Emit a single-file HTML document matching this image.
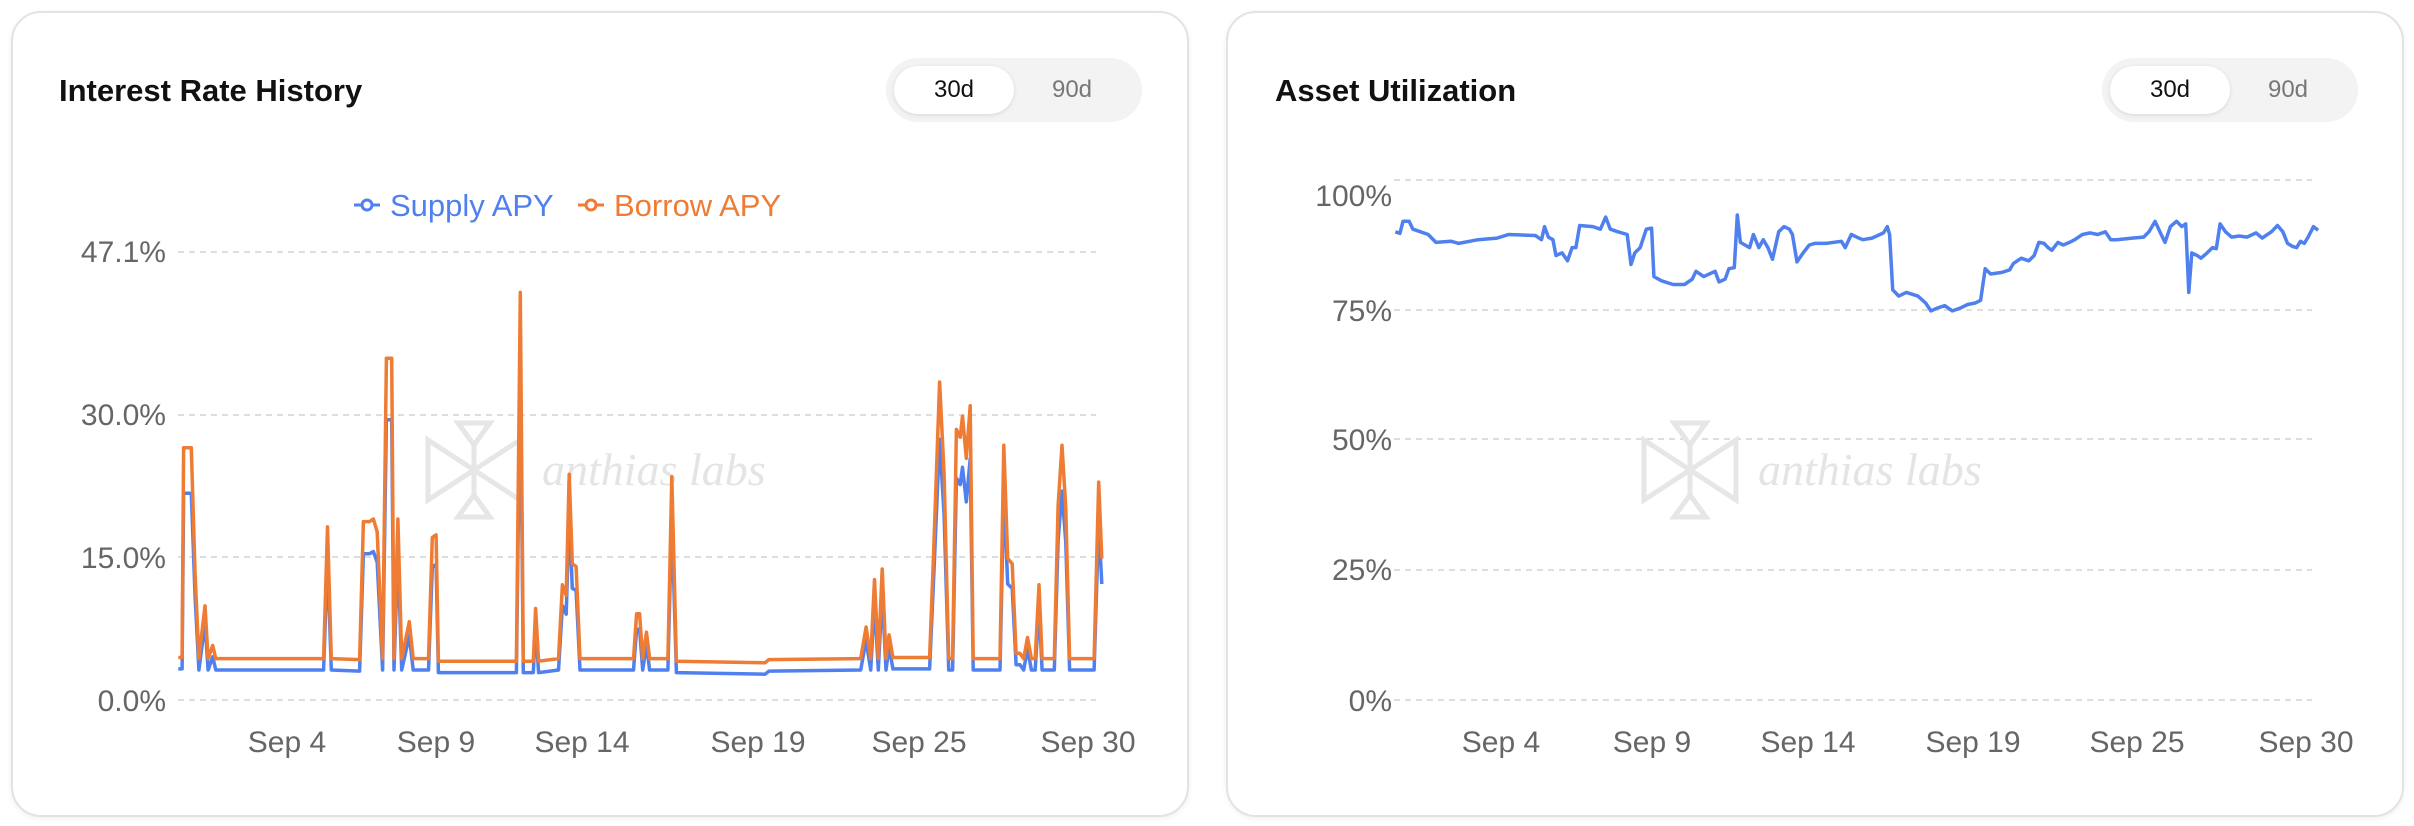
<!DOCTYPE html>
<html><head><meta charset="utf-8"><style>
html,body{margin:0;padding:0;background:#fff;width:2414px;height:826px;overflow:hidden;font-family:"Liberation Sans",sans-serif}
.card{position:absolute;top:11px;width:1178px;height:806px;border:2px solid #e3e3e3;border-radius:30px;box-sizing:border-box;box-shadow:0 2px 6px rgba(0,0,0,0.06);background:#fff}
.title{position:absolute;top:73px;font-size:31px;font-weight:bold;color:#111}
.tog{position:absolute;top:58px;width:256px;height:64px;border-radius:32px;background:#f3f3f3}
.tog .on{position:absolute;left:8px;top:8px;width:120px;height:48px;border-radius:24px;background:#fff;box-shadow:0 1px 4px rgba(0,0,0,0.12);text-align:center;line-height:48px;font-size:24px;color:#111}
.tog .off{position:absolute;left:146px;top:8px;width:80px;line-height:48px;text-align:center;font-size:24px;color:#777}
svg{position:absolute;left:0;top:0}
</style></head><body>
<div class="card" style="left:11px"></div>
<div class="card" style="left:1226px"></div>
<div class="title" style="left:59px">Interest Rate History</div>
<div class="title" style="left:1275px">Asset Utilization</div>
<div class="tog" style="left:886px"><div class="on">30d</div><div class="off">90d</div></div>
<div class="tog" style="left:2102px"><div class="on">30d</div><div class="off">90d</div></div>
<svg width="2414" height="826" id="s" font-family="Liberation Sans, sans-serif">
<g stroke="#d4d4d4" stroke-width="1.5" stroke-dasharray="6,5">
<line x1="178" x2="1096" y1="252" y2="252"/><line x1="178" x2="1096" y1="415" y2="415"/><line x1="178" x2="1096" y1="557" y2="557"/><line x1="178" x2="1096" y1="700" y2="700"/>
<line x1="1394" x2="2312" y1="180" y2="180"/><line x1="1394" x2="2312" y1="310" y2="310"/><line x1="1394" x2="2312" y1="439" y2="439"/><line x1="1394" x2="2312" y1="570" y2="570"/><line x1="1394" x2="2312" y1="700" y2="700"/>
</g>
<g font-size="30" fill="#666" text-anchor="end">
<text x="166" y="262">47.1%</text><text x="166" y="425">30.0%</text><text x="166" y="568">15.0%</text><text x="166" y="711">0.0%</text>
<text x="1392" y="206">100%</text><text x="1392" y="321">75%</text><text x="1392" y="450">50%</text><text x="1392" y="580">25%</text><text x="1392" y="711">0%</text>
</g>
<g font-size="30" fill="#666" text-anchor="middle">
<text x="287" y="752">Sep 4</text><text x="436" y="752">Sep 9</text><text x="582" y="752">Sep 14</text><text x="758" y="752">Sep 19</text><text x="919" y="752">Sep 25</text><text x="1088" y="752">Sep 30</text>
<text x="1501" y="752">Sep 4</text><text x="1652" y="752">Sep 9</text><text x="1808" y="752">Sep 14</text><text x="1973" y="752">Sep 19</text><text x="2137" y="752">Sep 25</text><text x="2306" y="752">Sep 30</text>
</g>
<g font-size="31">
<line x1="354" x2="380" y1="205" y2="205" stroke="#4f80ee" stroke-width="3"/><circle cx="367" cy="205" r="5" fill="#fff" stroke="#4f80ee" stroke-width="3"/>
<text x="390" y="216" fill="#4f80ee">Supply APY</text>
<line x1="578" x2="604" y1="205" y2="205" stroke="#ee7c34" stroke-width="3"/><circle cx="591" cy="205" r="5" fill="#fff" stroke="#ee7c34" stroke-width="3"/>
<text x="614" y="216" fill="#ee7c34">Borrow APY</text>
</g>
<g id="wm" fill="none" stroke="#e6e6e6" stroke-width="5"></g>
<g font-family="Liberation Serif, serif" font-style="italic" font-size="46" fill="#e4e4e4">
<text x="542" y="485">anthias labs</text><text x="1758" y="485">anthias labs</text>
</g>
<g id="lines"></g>
</svg>
<script>
var NS="http://www.w3.org/2000/svg";
function wm(ox){var g=document.getElementById('wm');
 var p=document.createElementNS(NS,'path');
 p.setAttribute('d','M'+(ox+32)+' 423 L'+(ox+64)+' 423 L'+(ox+48)+' 445 Z M'+(ox+32)+' 517 L'+(ox+64)+' 517 L'+(ox+48)+' 495 Z M'+(ox+48)+' 445 L'+(ox+48)+' 495 M'+(ox+2)+' 440 L'+(ox+2)+' 500 L'+(ox+94)+' 440 L'+(ox+94)+' 500 Z');
 g.appendChild(p);}
wm(426);wm(1642);
var b=[233,1248,238,1248,240,850,250,850,255,1090,260,1250,268,1150,272,1250,278,1225,282,1250,423,1250,428,1000,433,1250,470,1252,475,990,483,990,488,985,493,1010,500,1250,505,680,512,680,515,1250,520,985,525,1250,535,1180,540,1250,560,1250,565,1020,570,1015,573,1255,675,1255,680,555,684,1255,697,1255,700,1155,704,1255,730,1250,735,1110,740,1130,744,900,748,1070,753,1075,758,1250,828,1250,832,1165,836,1165,840,1250,845,1200,849,1250,873,1250,878,905,884,1255,1000,1258,1005,1252,1125,1250,1132,1190,1138,1250,1143,1100,1148,1250,1153,1080,1158,1250,1162,1205,1167,1248,1215,1248,1220,1060,1228,725,1234,900,1240,1250,1245,1250,1250,815,1255,830,1258,790,1263,870,1268,770,1272,1250,1307,1250,1312,845,1317,1060,1323,1070,1328,1240,1333,1240,1338,1250,1343,1210,1348,1250,1353,1250,1358,1110,1362,1250,1378,1250,1383,960,1388,845,1393,965,1398,1250,1430,1250,1436,915,1440,1060];
var y0=700,k=(700-252)/47.1;
var bp=[],sp=[];
for(var i=0;i<b.length;i+=2){var x=b[i]/1.307,y=b[i+1]/1.898;var v=(y0-y)/k;bp.push(x.toFixed(1)+','+y.toFixed(1));
 var sv=v<6?v-1.2:v*0.82;sp.push(x.toFixed(1)+','+(y0-sv*k).toFixed(1));}
var u=[237,440,243,443,247,420,255,420,260,435,270,440,280,445,290,460,310,458,320,462,345,455,370,452,385,445,420,447,428,455,432,430,437,450,443,455,447,485,455,480,462,495,468,470,473,470,478,428,495,430,505,435,512,412,518,435,528,440,540,445,545,502,550,480,557,470,565,435,572,433,575,525,585,533,600,540,615,540,625,530,630,515,640,525,655,515,660,535,668,530,673,510,680,508,684,408,688,460,700,470,705,445,712,470,718,455,724,470,730,492,738,440,745,430,752,435,756,445,762,497,770,480,778,465,785,462,800,462,820,458,825,470,833,445,840,450,848,455,860,452,875,442,880,430,883,445,887,550,895,562,905,555,920,562,930,575,937,590,945,585,955,580,965,590,975,585,985,578,995,575,1002,570,1008,510,1015,520,1030,517,1040,512,1045,500,1055,490,1065,495,1072,485,1078,460,1085,462,1090,470,1095,475,1103,460,1110,465,1118,460,1125,455,1135,445,1145,442,1155,445,1165,440,1172,455,1180,455,1200,452,1215,450,1222,440,1230,420,1238,445,1243,460,1250,430,1258,420,1265,430,1270,425,1274,555,1278,480,1285,485,1290,490,1298,480,1305,470,1310,472,1315,425,1322,440,1330,450,1340,448,1350,450,1362,442,1370,452,1382,440,1390,428,1397,440,1403,462,1410,468,1415,470,1420,458,1425,462,1430,450,1437,430,1443,437];
var up=[];for(var i=0;i<u.length;i+=2){up.push((u[i]/1.307+1214).toFixed(1)+','+(u[i+1]/1.898).toFixed(1));}
function pl(pts,c){var p=document.createElementNS(NS,'polyline');p.setAttribute('points',pts.join(' '));p.setAttribute('fill','none');p.setAttribute('stroke',c);p.setAttribute('stroke-width','3.5');p.setAttribute('stroke-linejoin','round');document.getElementById('lines').appendChild(p);}
pl(sp,'#4f80ee');pl(bp,'#ee7c34');pl(up,'#4f80ee');
</script>
</body></html>
